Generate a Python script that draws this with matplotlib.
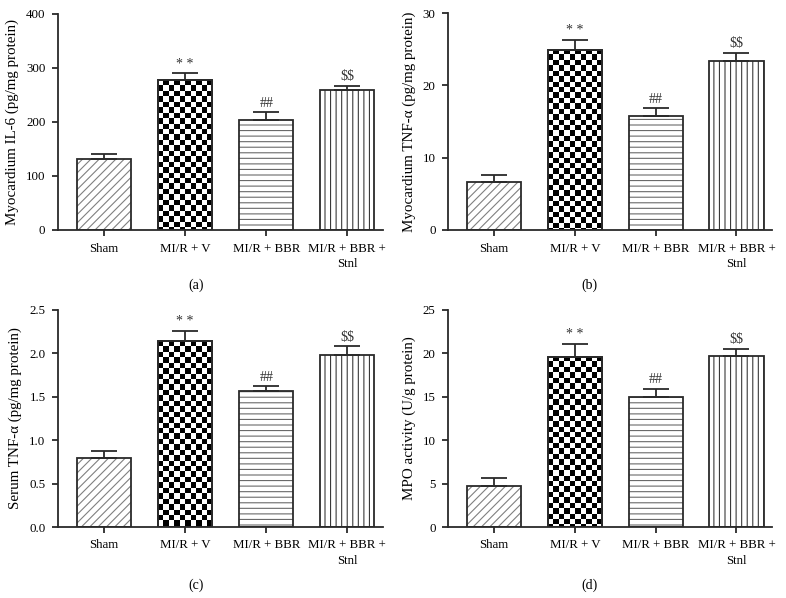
## Cytokine panels : bar chart with error bars (4 panels) ##
import numpy as np
import matplotlib
matplotlib.use('Agg')
import matplotlib.pyplot as plt

plt.rcParams['font.family'] = ['Liberation Serif', 'DejaVu Serif']
plt.rcParams['hatch.linewidth'] = 0.8

##############################################################################
############################     Data           ##############################
##############################################################################
groups = ['Sham', 'MI/R + V', 'MI/R + BBR', 'MI/R + BBR +\nStnl']
marks = ['', '* *', '##', r'\$\$']

il6_mean = [131, 277, 203, 259]
il6_top = [141, 290, 218, 267]

tnf_myo_mean = [6.7, 24.95, 15.7, 23.3]
tnf_myo_top = [7.6, 26.3, 16.8, 24.45]

tnf_serum_mean = [0.80, 2.14, 1.57, 1.98]
tnf_serum_top = [0.88, 2.26, 1.62, 2.08]

mpo_mean = [4.7, 19.63, 14.92, 19.67]
mpo_top = [5.6, 21.13, 15.87, 20.55]

ylabels = ['Myocardium IL-6 (pg/mg protein)',
           'Myocardium TNF-\u03b1 (pg/mg protein)',
           'Serum TNF-\u03b1 (pg/mg protein)',
           'MPO activity (U/g protein)']
yticks_list = [[0, 100, 200, 300, 400],
               [0, 10, 20, 30],
               [0.0, 0.5, 1.0, 1.5, 2.0, 2.5],
               [0, 5, 10, 15, 20, 25]]
ytick_fmt = ['%d', '%d', '%.1f', '%d']
panel_tags = ['(a)', '(b)', '(c)', '(d)']

##############################################################################
############################     Layout         ##############################
##############################################################################
W, H = 786, 598
fig = plt.figure(figsize=(W/100., H/100.), dpi=100)

# [left, top, width, height] in pixels (from top-left)
ax_px = [(58, 14, 325, 216), (448, 13, 324, 217),
         (58, 310, 325, 217), (448, 310, 324, 217)]

bar_w = 0.67
x = np.arange(len(groups))
edge = '#2a2a2a'
fs = 9.3


def draw_panel(ax, box, means, tops, ylab, yt, fmt):
    means = np.array(means, float)
    tops = np.array(tops, float)
    ymax = yt[-1]
    ax.set_xlim(-0.57, 3.44)
    ax.set_ylim(0, ymax)

    # Sham : diagonal hatch
    ax.bar(x[0], means[0], bar_w, color='white', edgecolor='#808080',
           hatch='////', linewidth=0, zorder=2)
    # MI/R+V : checker board (image clipped to the bar)
    chk = ax.bar(x[1], means[1], bar_w, color='none', edgecolor=edge,
                 linewidth=1.3, zorder=3)[0]
    ncol = 10
    cell_px = bar_w*box[2]/(ax.get_xlim()[1]-ax.get_xlim()[0])/ncol
    cell_h = cell_px*ymax/box[3]
    nrow = int(np.ceil(means[1]/cell_h))
    board = (np.add.outer(np.arange(nrow), np.arange(ncol)) % 2)
    board = board[::-1]
    im = ax.imshow(board, cmap='gray', interpolation='nearest', aspect='auto',
                   extent=(x[1]-bar_w/2, x[1]+bar_w/2, means[1]-nrow*cell_h, means[1]),
                   zorder=1.5, vmin=0, vmax=1)
    im.set_clip_path(chk)
    # MI/R+BBR : horizontal lines
    ax.bar(x[2], means[2], bar_w, color='white', edgecolor='#6a6a6a',
           hatch='---', linewidth=0, zorder=2)
    # MI/R+BBR+Stnl : vertical lines
    ax.bar(x[3], means[3], bar_w, color='white', edgecolor='#3a3a3a',
           hatch='|||', linewidth=0, zorder=2)
    # outlines
    ax.bar(x, means, bar_w, color='none', edgecolor=edge, linewidth=1.3, zorder=3)
    ax.set_xlim(-0.57, 3.44)
    ax.set_ylim(0, ymax)

    # error bars (upper only)
    ax.errorbar(x, means, yerr=[np.zeros(4), tops-means], fmt='none',
                ecolor=edge, elinewidth=1.3, capsize=9.5, capthick=1.3, zorder=4)
    for i in range(1, 4):
        ax.annotate(marks[i], (x[i], tops[i]), xytext=(0, 2),
                    textcoords='offset points', ha='center', va='bottom',
                    fontsize=10, color='#333333')

    ax.spines['top'].set_visible(False)
    ax.spines['right'].set_visible(False)
    for s in ['left', 'bottom']:
        ax.spines[s].set_linewidth(1.3)
        ax.spines[s].set_color(edge)
    ax.set_xticks(x)
    ax.set_xticklabels(groups, fontsize=fs, linespacing=1.4)
    ax.set_yticks(yt)
    ax.set_yticklabels([fmt % v for v in yt], fontsize=fs)
    ax.tick_params(direction='out', length=4, width=1.3, color=edge, pad=5)
    ax.set_ylabel(ylab, fontsize=10.8, labelpad=5)


means_all = [il6_mean, tnf_myo_mean, tnf_serum_mean, mpo_mean]
tops_all = [il6_top, tnf_myo_top, tnf_serum_top, mpo_top]
for k in range(4):
    l, t, w, h = ax_px[k]
    ax = fig.add_axes([l/W, 1-(t+h)/H, w/W, h/H])
    draw_panel(ax, ax_px[k], means_all[k], tops_all[k], ylabels[k],
               yticks_list[k], ytick_fmt[k])

# panel tags
fig.text(0.25, 1-285/H, panel_tags[0], ha='center', va='center', fontsize=10)
fig.text(0.75, 1-285/H, panel_tags[1], ha='center', va='center', fontsize=10)
fig.text(0.25, 1-585/H, panel_tags[2], ha='center', va='center', fontsize=10)
fig.text(0.75, 1-585/H, panel_tags[3], ha='center', va='center', fontsize=10)

fig.savefig('out.png', dpi=100)
